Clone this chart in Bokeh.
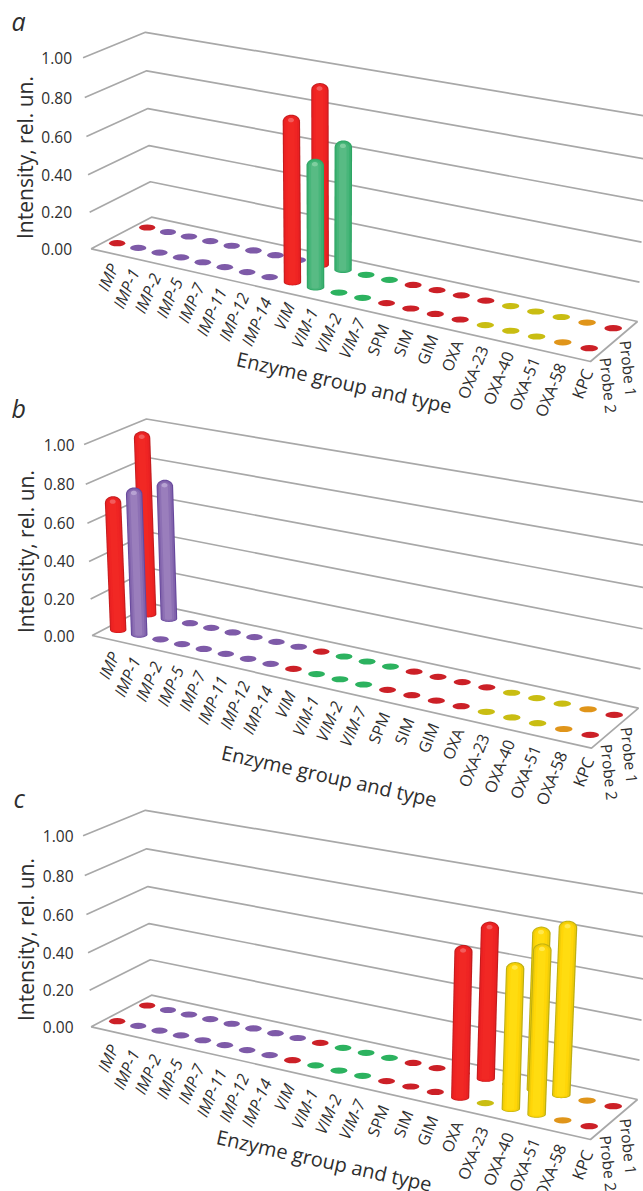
import math
from bokeh.plotting import figure
from bokeh.models import ColumnDataSource, Range1d
from bokeh.core.properties import value
from bokeh.embed import file_html
from bokeh.resources import INLINE

categories = ["IMP", "IMP-1", "IMP-2", "IMP-5", "IMP-7", "IMP-11", "IMP-12", "IMP-14", "VIM", "VIM-1", "VIM-2",
              "VIM-7", "SPM", "SIM", "GIM", "OXA", "OXA-23", "OXA-40", "OXA-51", "OXA-58", "KPC"]
groups = ["red", "purple", "purple", "purple", "purple", "purple", "purple", "purple", "red", "green", "green",
          "green", "red", "red", "red", "red", "yellow", "yellow", "yellow", "orange", "red"]
tick_values = [0.0, 0.2, 0.4, 0.6, 0.8, 1.0]
tick_labels = ["0.00", "0.20", "0.40", "0.60", "0.80", "1.00"]
probe_labels = ["Probe 1", "Probe 2"]

#                 IMP  -1   -2   -5   -7  -11  -12  -14  VIM  -1   -2   -7  SPM  SIM  GIM  OXA  -23  -40  -51  -58  KPC
probe1_a = [0.0, 0.0, 0.0, 0.0, 0.0, 0.0, 0.0, 0.0, 0.94, 0.675, 0.0, 0.0, 0.0, 0.0, 0.0, 0.0, 0.0, 0.0, 0.0, 0.0, 0.0]
probe2_a = [0.0, 0.0, 0.0, 0.0, 0.0, 0.0, 0.0, 0.0, 0.855, 0.66, 0.0, 0.0, 0.0, 0.0, 0.0, 0.0, 0.0, 0.0, 0.0, 0.0, 0.0]
probe1_b = [0.98, 0.75, 0.0, 0.0, 0.0, 0.0, 0.0, 0.0, 0.0, 0.0, 0.0, 0.0, 0.0, 0.0, 0.0, 0.0, 0.0, 0.0, 0.0, 0.0, 0.0]
probe2_b = [0.715, 0.78, 0.0, 0.0, 0.0, 0.0, 0.0, 0.0, 0.0, 0.0, 0.0, 0.0, 0.0, 0.0, 0.0, 0.0, 0.0, 0.0, 0.0, 0.0, 0.0]
probe1_c = [0.0, 0.0, 0.0, 0.0, 0.0, 0.0, 0.0, 0.0, 0.0, 0.0, 0.0, 0.0, 0.0, 0.0, 0.0, 0.79, 0.0, 0.81, 0.86, 0.0, 0.0]
probe2_c = [0.0, 0.0, 0.0, 0.0, 0.0, 0.0, 0.0, 0.0, 0.0, 0.0, 0.0, 0.0, 0.0, 0.0, 0.0, 0.755, 0.0, 0.72, 0.83, 0.0, 0.0]

panels = [
    dict(letter="a", p1=probe1_a, p2=probe2_a, dx=0.0, dy=0.0, tick_x=71.5, letter_xy=(11, 20),
         ytitle_xy=(24, 157), xtitle_xy=(236.5, 358), label_dy=0.0),
    dict(letter="b", p1=probe1_b, p2=probe2_b, dx=1.0, dy=386.7, tick_x=74.0, letter_xy=(11, 407),
         ytitle_xy=(25, 551), xtitle_xy=(221.5, 751.5), label_dy=1.5),
    dict(letter="c", p1=probe1_c, p2=probe2_c, dx=0.0, dy=778.0, tick_x=73.0, letter_xy=(13, 797),
         ytitle_xy=(25, 939), xtitle_xy=(216.5, 1136), label_dy=3.0),
]

# camera of the pseudo-3D box, in reference-panel screen units
F0, F1, B0, B1 = (116.7, 242.7), (588.7, 347.7), (146.7, 227.0), (612.7, 327.7)
FL, BL, BR, FR = (90.7, 248.3), (151.0, 216.7), (637.0, 321.0), (590.0, 361.0)
PERSP, K, XC, LEAN, H0, HY = 0.886, 0.055, 330.0, 0.034, 191.0, 0.193

bar_colors = {
    "red": ["#c21c1e", "#e92122", "#ef2423", "#f12824"],
    "purple": ["#66479c", "#8062ab", "#8d70b4", "#9a7ebc"],
    "green": ["#2ea564", "#3bb070", "#48b67a", "#58bb84"],
    "yellow": ["#bdae12", "#f0cd08", "#ffd608", "#ffdc10"],
}
bar_hi = {"red": "#f25c5c", "purple": "#b7a2d2", "green": "#7fcf9f", "yellow": "#ffe84e"}
dot_colors = {"red": "#cc2027", "purple": "#7e5aa8", "green": "#2cb25f", "yellow": "#c9bd12", "orange": "#e0951a"}
TEXT = "#2e2e2e"
GRID = "#a8a8a8"


def floor(i, d):
    t = i / 20.0
    s = t * PERSP / (1 + t * (PERSP - 1))
    fx, fy = F0[0] + s * (F1[0] - F0[0]), F0[1] + s * (F1[1] - F0[1])
    bx, by = B0[0] + s * (B1[0] - B0[0]), B0[1] + s * (B1[1] - B0[1])
    return (1 - d) * fx + d * bx, (1 - d) * fy + d * by


def lift(pt, v):
    z = v * (1 + K * v) / (1 + K)
    return pt[0] + (pt[0] - XC) * LEAN * z, pt[1] - z * (H0 + HY * (pt[1] - FL[1]))


def arc_poly(cx0, cy0, cx1, cy1, w, ry_bot, ry_top):
    xs, ys = [], []
    for k in range(0, 17):            # bottom, left to right
        a = math.pi * k / 16
        xs.append(cx0 - w * math.cos(a))
        ys.append(cy0 + ry_bot * math.sin(a))
    for k in range(0, 17):            # dome, right to left
        a = math.pi * k / 16
        xs.append(cx1 + w * math.cos(a))
        ys.append(cy1 - ry_top * math.sin(a))
    return xs, ys


p = figure(width=643, height=1191, x_range=Range1d(0, 643), y_range=Range1d(1191, 0),
           output_backend="svg", toolbar_location=None, min_border=0, outline_line_color=None,
           background_fill_color="white", border_fill_color="white")
p.axis.visible = False
p.grid.visible = False

for pan in panels:
    ox, oy = pan["dx"], pan["dy"]

    # floor and back-wall lines
    fx = [c[0] + ox for c in (FL, BL, BR, FR, FL)]
    fy = [c[1] + oy for c in (FL, BL, BR, FR, FL)]
    p.patch(fx, fy, fill_color="white", line_color=GRID, line_width=1.7)
    xs, ys = [], []
    for v in tick_values[1:]:
        pts = [lift(FL, v), lift(BL, v), lift(BR, v)]
        xs.append([q[0] + ox for q in pts])
        ys.append([q[1] + oy for q in pts])
    p.multi_line(xs, ys, line_color=GRID, line_width=1.7)

    # flat discs for the near-zero values
    dx_, dy_, dw, dc = [], [], [], []
    for d, row in ((1, pan["p1"]), (0, pan["p2"])):
        for i, val in enumerate(row):
            if val == 0:
                q = floor(i, d)
                dx_.append(q[0] + ox)
                dy_.append(q[1] + oy)
                dw.append(16.2 + 1.5 * i / 20)
                dc.append(dot_colors[groups[i]])
    p.ellipse(dx_, dy_, width=dw, height=6.2, fill_color=dc, line_color=None)

    # cylinders, far row first
    bxs, bys, bcs = [], [], []
    for d, row in ((1, pan["p1"]), (0, pan["p2"])):
        for i, val in enumerate(row):
            if val <= 0:
                continue
            q = floor(i, d)
            w = 8.2 + 1.2 * i / 20
            top = lift(q, val)
            cols = bar_colors[groups[i]]
            for f, col in zip((1.0, 0.88, 0.68, 0.42), cols):
                shift = -(1 - f) * 0.8
                a, b = arc_poly(q[0] + ox + shift, q[1] + oy - (1 - f) * 0.5, top[0] + ox + shift,
                                top[1] + oy + 7.0 + (1 - f) * 0.5, w * f, 3.2 * f, 7.0 * f)
                bxs.append(a)
                bys.append(b)
                bcs.append(col)
            a, b = arc_poly(top[0] + ox - 0.4, top[1] + oy + 5.5, top[0] + ox - 0.4, top[1] + oy + 5.5, 3.0, 2.2, 2.2)
            bxs.append(a)
            bys.append(b)
            bcs.append(bar_hi[groups[i]])
    p.patches(bxs, bys, fill_color=bcs, line_color=None)

    # tick labels
    ty = [lift(FL, v)[1] + oy for v in tick_values]
    p.text([pan["tick_x"]] * 6, ty, text=tick_labels, text_font=value("Open Sans"), text_font_size="15.5px",
           text_color=TEXT, text_align="right", text_baseline="middle")

    # category labels
    lx, ly, ls = [], [], []
    for i in range(21):
        q = floor(i, 0)
        lx.append(q[0] + ox - 4 + 2.5 * i / 20)
        ly.append(q[1] + oy + 21.5 + pan["label_dy"])
        ls.append("%.1fpx" % (16.4 if i < 12 else 15.8 + 0.6 * (i - 12) / 8))
    src_i = ColumnDataSource(dict(x=lx[:12], y=ly[:12], t=categories[:12], s=ls[:12]))
    src_n = ColumnDataSource(dict(x=lx[12:], y=ly[12:], t=categories[12:], s=ls[12:]))
    p.text("x", "y", text="t", source=src_i, angle=math.radians(66), text_font=value("Open Sans"),
           text_font_style="italic", text_font_size="s", text_color=TEXT, text_align="right",
           text_baseline="middle")
    p.text("x", "y", text="t", source=src_n, angle=math.radians(68), text_font=value("Open Sans"),
           text_font_size="s", text_color=TEXT, text_align="right", text_baseline="middle")

    # probe labels
    p.text([625 + ox, 605 + ox], [340 + oy, 357 + oy], text=probe_labels, angle=math.radians(-84),
           text_font=value("Open Sans"), text_font_size="15.5px", text_color=TEXT,
           text_align="left", text_baseline="middle")

    # titles
    p.text([pan["ytitle_xy"][0]], [pan["ytitle_xy"][1]], text=["Intensity, rel. un."], angle=math.pi / 2,
           text_font=value("Open Sans"), text_font_size="21px", text_color=TEXT,
           text_align="center", text_baseline="middle")
    p.text([pan["xtitle_xy"][0]], [pan["xtitle_xy"][1]], text=["Enzyme group and type"],
           angle=math.radians(-12.6), text_font=value("Open Sans"), text_font_size="20px", text_color=TEXT,
           text_align="left", text_baseline="middle")
    p.text([pan["letter_xy"][0]], [pan["letter_xy"][1]], text=[pan["letter"]], text_font=value("Open Sans"),
           text_font_style="italic", text_font_size="25px", text_color=TEXT, text_align="left",
           text_baseline="middle")

open("out.html", "w").write(file_html(p, INLINE))
